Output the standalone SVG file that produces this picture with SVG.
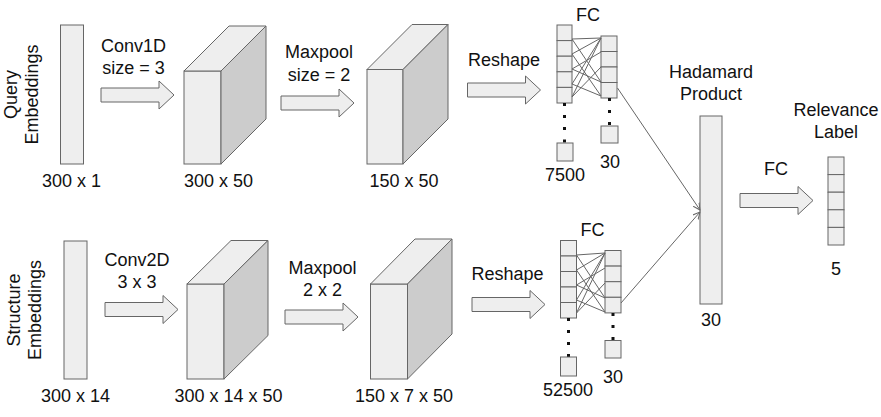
<svg xmlns="http://www.w3.org/2000/svg" width="881" height="417" viewBox="0 0 881 417">
<defs>
<style>
.box{fill:#eeeeee;stroke:#666666;stroke-width:1}
.side{fill:#cccccc;stroke:#666666;stroke-width:1}
.t{font-family:"Liberation Sans",Arial,sans-serif;font-size:18px;fill:#111111;text-anchor:middle}
.ln{stroke:#666666;stroke-width:1;fill:none}
.dot{fill:#111111}
</style>
<path id="barrow" class="box" d="M-73,-7 H-15 V-14 L0,0 L-15,14 V7 H-73 Z"/>
<marker id="ah" markerWidth="8" markerHeight="8" refX="7" refY="4" orient="auto" markerUnits="userSpaceOnUse">
<path d="M0,0.5 L7,4 L0,7.5" fill="none" stroke="#666666" stroke-width="1"/>
</marker>
</defs>
<rect width="881" height="417" fill="#ffffff"/>

<!-- Top row -->
<g id="query-emb">
<rect class="box" x="60.5" y="25" width="23" height="139"/>
<text class="t" transform="translate(16.5,94.5) rotate(-90)">Query</text>
<text class="t" transform="translate(38,94.5) rotate(-90)">Embeddings</text>
<text class="t" x="71.5" y="187">300 x 1</text>
</g>
<g id="conv1d">
<use href="#barrow" transform="translate(174,95)"/>
<text class="t" x="133.5" y="52">Conv1D</text>
<text class="t" x="133.5" y="73.5">size = 3</text>
</g>
<g id="cube1">
<rect class="box" x="184" y="71" width="37" height="93"/>
<polygon class="box" points="184,71 229,26 266,26 221,71"/>
<polygon class="side" points="221,71 266,26 266,119 221,164"/>
<text class="t" x="218.5" y="187">300 x 50</text>
</g>
<g id="maxpool1">
<use href="#barrow" transform="translate(354,103)"/>
<text class="t" x="319" y="58">Maxpool</text>
<text class="t" x="319" y="80.5">size = 2</text>
</g>
<g id="cube2">
<rect class="box" x="367" y="69.5" width="36" height="94.5"/>
<polygon class="box" points="367,69.5 412,24.5 448,24.5 403,69.5"/>
<polygon class="side" points="403,69.5 448,24.5 448,119 403,164"/>
<text class="t" x="404" y="187">150 x 50</text>
</g>
<g id="reshape1">
<use href="#barrow" transform="translate(540.5,90)"/>
<text class="t" x="504" y="66">Reshape</text>
</g>
<g id="fc1">
<text class="t" x="588" y="20.5">FC</text>
<rect class="box" x="557" y="25" width="15" height="15.6"/>
<rect class="box" x="557" y="40.6" width="15" height="15.6"/>
<rect class="box" x="557" y="56.2" width="15" height="15.6"/>
<rect class="box" x="557" y="71.8" width="15" height="15.6"/>
<rect class="box" x="557" y="87.4" width="15" height="15.6"/>
<rect class="dot" x="563" y="103" width="3" height="3"/>
<rect class="dot" x="563" y="115" width="3" height="3"/>
<rect class="dot" x="563" y="127" width="3" height="3"/>
<rect class="dot" x="563" y="139.5" width="3" height="3"/>
<rect class="box" x="557" y="143" width="16" height="18"/>
<text class="t" x="565" y="181">7500</text>
<rect class="box" x="601" y="36" width="16" height="15.5"/>
<rect class="box" x="601" y="51.5" width="16" height="15.5"/>
<rect class="box" x="601" y="67" width="16" height="15.5"/>
<rect class="box" x="601" y="82.5" width="16" height="15.5"/>
<rect class="dot" x="608" y="98" width="3" height="3"/>
<rect class="dot" x="608" y="110" width="3" height="3"/>
<rect class="dot" x="608" y="122" width="3" height="3"/>
<rect class="box" x="601" y="126" width="17" height="17"/>
<text class="t" x="610" y="168">30</text>
<path class="ln" d="M572,39 L601,38 M572,39 L601,82 M572,54 L601,38 M572,54 L601,96 M572,69 L601,52 M572,69 L601,82 M572,84 L601,38 M572,84 L601,96 M572,97 L601,38 M572,97 L601,67"/>
</g>

<!-- Bottom row -->
<g id="structure-emb">
<rect class="box" x="64" y="241" width="23" height="138"/>
<text class="t" transform="translate(19.5,310) rotate(-90)">Structure</text>
<text class="t" transform="translate(41,310) rotate(-90)">Embeddings</text>
<text class="t" x="75.5" y="401.5">300 x 14</text>
</g>
<g id="conv2d">
<use href="#barrow" transform="translate(178,309.5)"/>
<text class="t" x="137" y="266">Conv2D</text>
<text class="t" x="137" y="288">3 x 3</text>
</g>
<g id="cube3">
<rect class="box" x="187" y="284" width="37" height="95"/>
<polygon class="box" points="187,284 231,240.5 268,240.5 224,284"/>
<polygon class="side" points="224,284 268,240.5 268,335.5 224,379"/>
<text class="t" x="228.5" y="401.5">300 x 14 x 50</text>
</g>
<g id="maxpool2">
<use href="#barrow" transform="translate(358,317)"/>
<text class="t" x="322.5" y="274">Maxpool</text>
<text class="t" x="322.5" y="296">2 x 2</text>
</g>
<g id="cube4">
<rect class="box" x="370.5" y="284" width="37" height="95"/>
<polygon class="box" points="370.5,284 415,239 452,239 407.5,284"/>
<polygon class="side" points="407.5,284 452,239 452,334 407.5,379"/>
<text class="t" x="404" y="401.5">150 x 7 x 50</text>
</g>
<g id="reshape2">
<use href="#barrow" transform="translate(545,304.5)"/>
<text class="t" x="507.5" y="279.5">Reshape</text>
</g>
<g id="fc2">
<text class="t" x="592.5" y="235.5">FC</text>
<rect class="box" x="560.5" y="240.5" width="16" height="15.5"/>
<rect class="box" x="560.5" y="256" width="16" height="15.5"/>
<rect class="box" x="560.5" y="271.5" width="16" height="15.5"/>
<rect class="box" x="560.5" y="287" width="16" height="15.5"/>
<rect class="box" x="560.5" y="302.5" width="16" height="15.5"/>
<rect class="dot" x="567" y="318" width="3" height="3"/>
<rect class="dot" x="567" y="330" width="3" height="3"/>
<rect class="dot" x="567" y="342" width="3" height="3"/>
<rect class="dot" x="567" y="354" width="3" height="3"/>
<rect class="box" x="560.5" y="357" width="16" height="19"/>
<text class="t" x="568" y="396">52500</text>
<rect class="box" x="605" y="250.5" width="16" height="15.6"/>
<rect class="box" x="605" y="266.1" width="16" height="15.6"/>
<rect class="box" x="605" y="281.7" width="16" height="15.6"/>
<rect class="box" x="605" y="297.3" width="16" height="15.6"/>
<rect class="dot" x="611.5" y="313" width="3" height="3"/>
<rect class="dot" x="611.5" y="325" width="3" height="3"/>
<rect class="dot" x="611.5" y="337" width="3" height="3"/>
<rect class="box" x="605" y="340.5" width="16" height="17.5"/>
<text class="t" x="613" y="383">30</text>
<path class="ln" d="M576.5,255 L605,253 M576.5,255 L605,298 M576.5,270 L605,253 M576.5,270 L605,312 M576.5,285 L605,268 M576.5,285 L605,298 M576.5,300 L605,253 M576.5,300 L605,312 M576.5,313 L605,253 M576.5,313 L605,283"/>
</g>

<!-- Merge / output -->
<g id="hadamard">
<rect class="box" x="700" y="116" width="22" height="188"/>
<text class="t" x="711" y="78">Hadamard</text>
<text class="t" x="711" y="99.5">Product</text>
<text class="t" x="711" y="326">30</text>
</g>
<g id="fc-out">
<use href="#barrow" transform="translate(813,200.5)"/>
<text class="t" x="776" y="175">FC</text>
</g>
<g id="relevance">
<text class="t" x="836" y="115.5">Relevance</text>
<text class="t" x="836" y="138">Label</text>
<rect class="box" x="828" y="157" width="16" height="17.6"/>
<rect class="box" x="828" y="174.6" width="16" height="17.6"/>
<rect class="box" x="828" y="192.2" width="16" height="17.6"/>
<rect class="box" x="828" y="209.8" width="16" height="17.6"/>
<rect class="box" x="828" y="227.4" width="16" height="17.6"/>
<text class="t" x="836" y="274.5">5</text>
</g>

<g id="connectors">
<path class="ln" d="M617.5,88 L700,210" marker-end="url(#ah)"/>
<path class="ln" d="M621,303 L700,212" marker-end="url(#ah)"/>
</g>
</svg>
